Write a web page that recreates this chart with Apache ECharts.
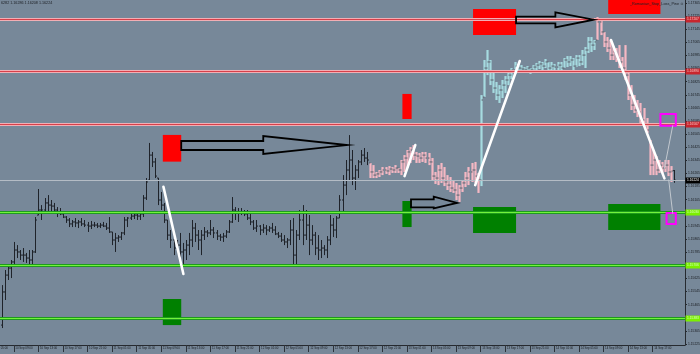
<!DOCTYPE html>
<html><head><meta charset="utf-8">
<script src="https://cdn.jsdelivr.net/npm/echarts@6/dist/echarts.min.js"></script>
<style>html,body{margin:0;padding:0;background:#778899}#c{width:700px;height:354px}</style>
</head><body><div id="c"></div>
<script>
const titleText = '6282 1.16286 1.16208 1.16224';
const expertName = '_Romanian_Stop_Loss_Pine \u263A';
const priceTicks = [1.17305,1.17225,1.17145,1.17065,1.16985,1.16905,1.16825,1.16745,1.16665,1.16585,1.16505,1.16425,1.16345,1.16265,1.16185,1.16105,1.16025,1.15945,1.15865,1.15785,1.15705,1.15625,1.15545,1.15465,1.15385,1.15305,1.15225];
// [open, close, low, high], M30 bars starting 10 Sep 07:00
const ohlc = [
[1.15340,1.15542,1.15322,1.15584],[1.15542,1.15645,1.15493,1.15676],[1.15645,1.15688,1.15615,1.15706],[1.15688,1.15725,1.15627,1.15737],
[1.15725,1.15798,1.15694,1.15847],[1.15798,1.15786,1.15749,1.15828],[1.15786,1.15767,1.15737,1.15798],[1.15767,1.15767,1.15725,1.15810],
[1.15767,1.15749,1.15719,1.15780],[1.15749,1.15737,1.15706,1.15798],[1.15737,1.15786,1.15694,1.15798],[1.15786,1.15981,1.15780,1.15999],
[1.16011,1.16042,1.16011,1.16170],[1.16042,1.16042,1.15981,1.16072],[1.16042,1.16085,1.16018,1.16115],[1.16085,1.16072,1.16030,1.16133],
[1.16072,1.16066,1.16030,1.16103],[1.16066,1.16042,1.16024,1.16085],[1.16042,1.16030,1.15999,1.16060],[1.16030,1.16018,1.16011,1.16054],
[1.16018,1.15999,1.15993,1.16030],[1.15999,1.15981,1.15963,1.16005],[1.15981,1.15957,1.15938,1.15993],[1.15957,1.15969,1.15938,1.15981],
[1.15969,1.15963,1.15938,1.15993],[1.15963,1.15969,1.15932,1.15981],[1.15969,1.15957,1.15944,1.15993],[1.15957,1.15950,1.15938,1.15981],
[1.15950,1.15944,1.15908,1.15969],[1.15944,1.15950,1.15926,1.15975],[1.15950,1.15950,1.15938,1.15969],[1.15950,1.15944,1.15932,1.15963],
[1.15944,1.15950,1.15932,1.15963],[1.15950,1.15944,1.15938,1.15969],[1.15944,1.15932,1.15920,1.15963],[1.15932,1.15908,1.15902,1.15999],
[1.15908,1.15859,1.15828,1.15908],[1.15859,1.15871,1.15786,1.15902],[1.15871,1.15877,1.15847,1.15889],[1.15877,1.15902,1.15859,1.15908],
[1.15902,1.15981,1.15889,1.15999],[1.15981,1.15993,1.15938,1.15999],[1.15993,1.16005,1.15981,1.16018],[1.16005,1.16011,1.15987,1.16036],
[1.16011,1.16005,1.15981,1.16024],[1.16005,1.16018,1.15981,1.16030],[1.16018,1.16115,1.15999,1.16133],[1.16115,1.16213,1.16103,1.16237],
[1.16225,1.16377,1.16225,1.16451],[1.16377,1.16335,1.16304,1.16396],[1.16335,1.16249,1.16237,1.16359],[1.16237,1.16103,1.16072,1.16237],
[1.16103,1.16072,1.16042,1.16152],[1.16072,1.15981,1.15963,1.16085],[1.15981,1.15889,1.15859,1.15981],[1.15889,1.15859,1.15810,1.15920],
[1.15859,1.15810,1.15767,1.15877],[1.15810,1.15828,1.15786,1.15859],[1.15828,1.15786,1.15737,1.15902],[1.15786,1.15798,1.15694,1.15841],
[1.15798,1.15828,1.15737,1.15859],[1.15828,1.15859,1.15767,1.15902],[1.15859,1.15932,1.15816,1.15981],[1.15932,1.15889,1.15847,1.15963],
[1.15889,1.15859,1.15798,1.15920],[1.15859,1.15889,1.15767,1.15920],[1.15889,1.15908,1.15859,1.15938],[1.15908,1.15902,1.15877,1.15920],
[1.15902,1.15920,1.15889,1.15981],[1.15920,1.15902,1.15871,1.15938],[1.15902,1.15883,1.15859,1.15920],[1.15883,1.15877,1.15853,1.15896],
[1.15877,1.15883,1.15847,1.15902],[1.15883,1.15908,1.15871,1.15920],[1.15908,1.15969,1.15902,1.15981],[1.15969,1.16042,1.15963,1.16121],
[1.16042,1.16030,1.15981,1.16060],[1.16030,1.16024,1.15969,1.16054],[1.16024,1.16030,1.16011,1.16054],[1.16030,1.16018,1.16005,1.16042],
[1.16018,1.15993,1.15981,1.16042],[1.15993,1.15969,1.15950,1.16018],[1.15969,1.15932,1.15920,1.15981],[1.15932,1.15944,1.15908,1.15981],
[1.15944,1.15920,1.15889,1.15950],[1.15920,1.15932,1.15902,1.15957],[1.15932,1.15920,1.15889,1.15950],[1.15920,1.15932,1.15908,1.15944],
[1.15932,1.15920,1.15902,1.15963],[1.15920,1.15896,1.15889,1.15944],[1.15896,1.15883,1.15871,1.15908],[1.15883,1.15859,1.15847,1.15902],
[1.15859,1.15847,1.15828,1.15889],[1.15847,1.15859,1.15810,1.15871],[1.15859,1.15920,1.15828,1.15981],[1.15920,1.15767,1.15706,1.15993],
[1.15767,1.15889,1.15706,1.15920],[1.15889,1.15981,1.15859,1.16042],[1.15981,1.15889,1.15828,1.16072],[1.15889,1.15950,1.15859,1.16042],
[1.15950,1.15859,1.15767,1.16011],[1.15859,1.15889,1.15828,1.15950],[1.15889,1.15810,1.15767,1.15908],[1.15810,1.15798,1.15737,1.15889],
[1.15798,1.15810,1.15749,1.15859],[1.15810,1.15798,1.15767,1.15828],[1.15798,1.15859,1.15749,1.15883],[1.15859,1.15950,1.15828,1.16011],
[1.15950,1.15920,1.15877,1.15993],[1.15920,1.15993,1.15871,1.16005],[1.15993,1.16103,1.15993,1.16133],[1.16103,1.16194,1.16024,1.16255],
[1.16194,1.16286,1.16133,1.16347],[1.16286,1.16347,1.16225,1.16499],[1.16347,1.16237,1.16194,1.16408],[1.16237,1.16286,1.16164,1.16316],
[1.16286,1.16335,1.16237,1.16347],[1.16335,1.16377,1.16316,1.16408],[1.16377,1.16359,1.16335,1.16420],[1.16359,1.16347,1.16316,1.16396],
[1.16329,1.16274,1.16237,1.16329],[1.16274,1.16255,1.16237,1.16316],[1.16255,1.16262,1.16237,1.16274],[1.16262,1.16274,1.16243,1.16286],
[1.16274,1.16286,1.16255,1.16304],[1.16286,1.16280,1.16262,1.16304],[1.16280,1.16292,1.16255,1.16310],[1.16292,1.16286,1.16268,1.16304],
[1.16286,1.16298,1.16268,1.16316],[1.16298,1.16286,1.16268,1.16298],[1.16286,1.16335,1.16255,1.16347],[1.16335,1.16359,1.16274,1.16377],
[1.16359,1.16396,1.16298,1.16408],[1.16396,1.16408,1.16329,1.16426],[1.16408,1.16377,1.16347,1.16438],[1.16377,1.16371,1.16329,1.16396],
[1.16371,1.16359,1.16329,1.16390],[1.16359,1.16377,1.16335,1.16396],[1.16377,1.16359,1.16329,1.16396],[1.16359,1.16335,1.16316,1.16390],
[1.16335,1.16249,1.16225,1.16359],[1.16249,1.16237,1.16201,1.16274],[1.16237,1.16286,1.16194,1.16316],[1.16286,1.16237,1.16207,1.16329],
[1.16237,1.16213,1.16188,1.16304],[1.16213,1.16194,1.16164,1.16255],[1.16194,1.16176,1.16152,1.16243],[1.16176,1.16164,1.16146,1.16225],
[1.16164,1.16133,1.16103,1.16207],[1.16133,1.16176,1.16091,1.16194],[1.16176,1.16207,1.16152,1.16225],[1.16207,1.16237,1.16182,1.16274],
[1.16237,1.16274,1.16194,1.16304],[1.16274,1.16286,1.16213,1.16329],[1.16286,1.16249,1.16207,1.16335],[1.16249,1.16225,1.16146,1.16268],
[1.16225,1.16713,1.16188,1.16743],[1.16731,1.16908,1.16731,1.16957],[1.16908,1.16945,1.16865,1.17018],[1.16945,1.16835,1.16804,1.16957],
[1.16835,1.16786,1.16756,1.16884],[1.16786,1.16743,1.16713,1.16823],[1.16743,1.16774,1.16695,1.16804],[1.16774,1.16804,1.16725,1.16835],
[1.16804,1.16835,1.16756,1.16859],[1.16835,1.16865,1.16804,1.16884],[1.16865,1.16896,1.16841,1.16908],[1.16896,1.16920,1.16872,1.16945],
[1.16920,1.16908,1.16884,1.16933],[1.16908,1.16902,1.16884,1.16926],[1.16902,1.16896,1.16878,1.16914],[1.16896,1.16908,1.16878,1.16920],
[1.16908,1.16896,1.16872,1.16908],[1.16896,1.16914,1.16878,1.16926],[1.16914,1.16926,1.16884,1.16939],[1.16926,1.16933,1.16902,1.16951],
[1.16933,1.16920,1.16896,1.16945],[1.16920,1.16945,1.16908,1.16963],[1.16945,1.16908,1.16890,1.16945],[1.16908,1.16920,1.16884,1.16945],
[1.16920,1.16914,1.16890,1.16933],[1.16914,1.16926,1.16896,1.16945],[1.16926,1.16908,1.16884,1.16945],[1.16908,1.16957,1.16908,1.16969],
[1.16957,1.16945,1.16914,1.16981],[1.16945,1.16957,1.16920,1.16981],[1.16957,1.16920,1.16896,1.16969],[1.16920,1.16969,1.16914,1.16987],
[1.16969,1.16945,1.16920,1.16987],[1.16945,1.16987,1.16926,1.17018],[1.16987,1.17018,1.16908,1.17036],[1.17018,1.17067,1.17000,1.17097],
[1.17067,1.17048,1.17006,1.17097],[1.17048,1.17067,1.17018,1.17079],[1.17079,1.17189,1.17079,1.17219],[1.17189,1.17128,1.17109,1.17201],
[1.17128,1.17067,1.17036,1.17128],[1.17067,1.17030,1.17006,1.17097],[1.17030,1.16987,1.16957,1.17079],[1.16987,1.17006,1.16957,1.17036],
[1.17006,1.16969,1.16945,1.17030],[1.16969,1.16945,1.16908,1.17048],[1.16945,1.16908,1.16878,1.16975],[1.16908,1.16865,1.16835,1.17048],
[1.16865,1.16743,1.16713,1.16896],[1.16743,1.16682,1.16652,1.16804],[1.16682,1.16652,1.16634,1.16743],[1.16652,1.16640,1.16609,1.16713],
[1.16640,1.16591,1.16560,1.16695],[1.16591,1.16560,1.16548,1.16664],[1.16560,1.16530,1.16512,1.16603],[1.16469,1.16316,1.16255,1.16469],
[1.16316,1.16347,1.16255,1.16408],[1.16347,1.16286,1.16255,1.16371],[1.16286,1.16316,1.16268,1.16347],[1.16316,1.16298,1.16268,1.16335],
[1.16298,1.16316,1.16274,1.16347],[1.16316,1.16274,1.16249,1.16347],[1.16274,1.16280,1.16213,1.16310],[1.16282,1.16224,1.16208,1.16286]
];
const pinkRanges = [[120,155],[194,218]];
const cyanRanges = [[156,193]];
const redLevels = [1.17207, 1.16890, 1.16567];
const greenLevels = [1.16030, 1.15706, 1.15383];
const currentPrice = 1.16224;
// zones: [firstBar, lastBar, topPrice, bottomPrice]
const redZones = [[53,58,1.16500,1.16337],[131,133,1.16750,1.16597],[154,167,1.17268,1.17110],[198,214,1.17396,1.17238]];
const greenZones = [[53,58,1.15499,1.15340],[131,133,1.16097,1.15938],[154,167,1.16060,1.15902],[198,214,1.16079,1.15920]];
const magentaBoxes = [[215,219,1.16628,1.16556],[217,219,1.16024,1.15957]];
// arrows: [tailBar, headStartBar, tipBar, shaftTop, shaftBottom, headTop, headBottom, tipPrice]
const arrows = [
  [58.5,85.2,112.5,1.16463,1.16408,1.16493,1.16384,1.16438],
  [133.3,140.7,148.3,1.16107,1.16058,1.16123,1.16052,1.16085],
  [167.5,180.3,192.8,1.17221,1.17181,1.17248,1.17156,1.17203]
];
// segments: [bar1, price1, bar2, price2]
const whiteLines = [[52.7,1.16184,59.2,1.15652],[131.2,1.16249,134.7,1.16438],[154.2,1.16194,168.7,1.16951],[198.4,1.17079,215.8,1.16235]];
const grayLines = [[218.5,1.16556,215.8,1.16296],[217.2,1.16225,218.5,1.16022]];

const NCAT = 227, FIRST = 4;
const categories = [];
for (let j = 0; j < NCAT; j++) {
  const m = 300 + 30 * j;
  const d = 10 + Math.floor(m / 1440);
  const hm = m % 1440;
  categories.push(d + ' Sep ' + String(Math.floor(hm / 60)).padStart(2, '0') + ':' + String(hm % 60).padStart(2, '0'));
}
const inR = (k, rs) => rs.some(r => k >= r[0] && k <= r[1]);
const barData = ohlc.map((d, k) => [k, d[0], d[1], d[2], d[3], inR(k, pinkRanges) ? 1 : (inR(k, cyanRanges) ? 2 : 0)]);
const levelData = redLevels.map(p => [0, p, 0]).concat(greenLevels.map(p => [0, p, 1])).concat([[0, currentPrice, 2]]);
const XMIN = -FIRST - 0.5, XMAX = NCAT - FIRST - 0.5;
const FONT = 'Liberation Sans';

function renderBar(params, api) {
  const k = api.value(0), t = api.value(5);
  const ph = api.coord([k, api.value(4)]), pl = api.coord([k, api.value(3)]);
  const po = api.coord([k, api.value(1)]), pc = api.coord([k, api.value(2)]);
  const x = Math.round(ph[0]) + 0.5;
  const ch = [];
  let tc = '#1f232a';
  if (t > 0) {
    ch.push({type: 'rect', shape: {x: x - 1.1, y: ph[1], width: 2.2, height: Math.max(1, pl[1] - ph[1])}, style: {fill: t === 1 ? '#f6b8c3' : '#a6dbe0'}});
    tc = '#59616b';
  } else {
    ch.push({type: 'line', shape: {x1: x, y1: ph[1], x2: x, y2: pl[1]}, style: {stroke: tc, lineWidth: 1}});
  }
  ch.push({type: 'line', shape: {x1: x - 1.5, y1: po[1], x2: x, y2: po[1]}, style: {stroke: tc, lineWidth: 1}});
  ch.push({type: 'line', shape: {x1: x, y1: pc[1], x2: x + 1.5, y2: pc[1]}, style: {stroke: tc, lineWidth: 1}});
  return {type: 'group', children: ch};
}
const levelStyles = [
  {outer: '#f2aeb4', inner: '#d7404a', bg: '#c9262e', fg: '#f4c6c6'},
  {outer: '#1f9a1f', inner: '#72f43a', bg: '#7cf000', fg: '#d6ffc0'},
  {outer: null, inner: '#b4bcc5', bg: '#000000', fg: '#ffffff'}
];
function renderLevel(params, api) {
  const p = api.value(1), st = levelStyles[api.value(2)];
  const a = api.coord([XMIN, p]), b = api.coord([XMAX, p]);
  const y = Math.round(a[1]) + 0.5;
  const ch = [];
  if (st.outer) ch.push({type: 'line', shape: {x1: a[0], y1: y, x2: b[0], y2: y}, style: {stroke: st.outer, lineWidth: 3}});
  ch.push({type: 'line', shape: {x1: a[0], y1: y, x2: b[0], y2: y}, style: {stroke: st.inner, lineWidth: 1}});
  ch.push({type: 'rect', shape: {x: b[0] + 0.5, y: y - 3, width: 16, height: 6}, style: {fill: st.bg}});
  ch.push({type: 'text', x: b[0] + 2, y: y, style: {text: p.toFixed(5), fill: st.fg, fontSize: 3.3, fontFamily: FONT, align: 'left', verticalAlign: 'middle'}});
  return {type: 'group', children: ch};
}
function zoneRenderer(fill, stroke) {
  return function (params, api) {
    const p1 = api.coord([api.value(0) - 0.5, api.value(2)]);
    const p2 = api.coord([api.value(1) + 0.5, api.value(3)]);
    return {type: 'rect', shape: {x: p1[0], y: p1[1], width: p2[0] - p1[0], height: p2[1] - p1[1]},
      style: fill ? {fill: fill} : {fill: 'none', stroke: stroke, lineWidth: 2}};
  };
}
function renderArrow(params, api) {
  const v = i => api.value(i);
  const pts = [[v(0), v(3)], [v(1), v(3)], [v(1), v(5)], [v(2), v(7)], [v(1), v(6)], [v(1), v(4)], [v(0), v(4)]].map(q => api.coord(q));
  return {type: 'polygon', shape: {points: pts}, style: {fill: 'none', stroke: '#000000', lineWidth: 1.8, lineJoin: 'miter'}};
}
function segRenderer(color, w) {
  return function (params, api) {
    const a = api.coord([api.value(0), api.value(1)]), b = api.coord([api.value(2), api.value(3)]);
    return {type: 'line', shape: {x1: a[0], y1: a[1], x2: b[0], y2: b[1]}, style: {stroke: color, lineWidth: w, lineCap: 'round'}};
  };
}
const showLab = (i) => i % 8 === 0 && i <= 216;
const base = {type: 'custom', xAxisIndex: 1, yAxisIndex: 0, silent: true, animation: false};

const chart = echarts.init(document.getElementById('c'), null, {renderer: 'canvas'});
chart.setOption({
  animation: false,
  backgroundColor: '#778899',
  title: [
    {text: titleText, left: 1, top: 1, padding: 0, textStyle: {fontSize: 3.7, fontWeight: 'normal', color: '#1c1f24', fontFamily: FONT}},
    {text: expertName, right: 16, top: 2, padding: 0, textStyle: {fontSize: 3.8, fontWeight: 'normal', color: '#1c1f24', fontFamily: FONT}}
  ],
  grid: {left: -12.28, right: 15, top: 0, bottom: 9, containLabel: false, outerBoundsMode: 'none'},
  xAxis: [
    {type: 'category', data: categories, boundaryGap: true, position: 'bottom',
      axisLine: {show: true, onZero: false, lineStyle: {color: '#262a30', width: 1}},
      axisTick: {show: true, interval: showLab, alignWithLabel: true, length: 7, lineStyle: {color: '#2e333a'}},
      axisLabel: {interval: showLab, align: 'left', padding: [0, 0, 0, 1.5], fontSize: 2.9, color: '#1a1d22', margin: 2, fontFamily: FONT},
      splitLine: {show: false}},
    {type: 'value', min: XMIN, max: XMAX, show: false}
  ],
  yAxis: {type: 'value', position: 'right', min: 1.152185, max: 1.17323, scale: true,
    axisLine: {show: true, onZero: false, lineStyle: {color: '#262a30', width: 1}},
    axisTick: {show: true, customValues: priceTicks, length: 2, lineStyle: {color: '#262a30'}},
    axisLabel: {customValues: priceTicks, formatter: v => v.toFixed(5), fontSize: 3.3, color: '#1a1d22', margin: 3, fontFamily: FONT},
    splitLine: {show: false}},
  series: [
    Object.assign({}, base, {name: 'bars', z: 2, renderItem: renderBar, data: barData}),
    Object.assign({}, base, {name: 'redZones', z: 3, renderItem: zoneRenderer('#ff0000'), data: redZones}),
    Object.assign({}, base, {name: 'greenZones', z: 3, renderItem: zoneRenderer('#008000'), data: greenZones}),
    Object.assign({}, base, {name: 'levels', z: 5, renderItem: renderLevel, data: levelData}),
    Object.assign({}, base, {name: 'boxes', z: 6, renderItem: zoneRenderer(null, '#ff00ff'), data: magentaBoxes}),
    Object.assign({}, base, {name: 'arrows', z: 6, renderItem: renderArrow, data: arrows}),
    Object.assign({}, base, {name: 'white', z: 7, renderItem: segRenderer('#ffffff', 2.6), data: whiteLines}),
    Object.assign({}, base, {name: 'gray', z: 7, renderItem: segRenderer('#c2c8cf', 1), data: grayLines})
  ]
});
</script></body></html>
